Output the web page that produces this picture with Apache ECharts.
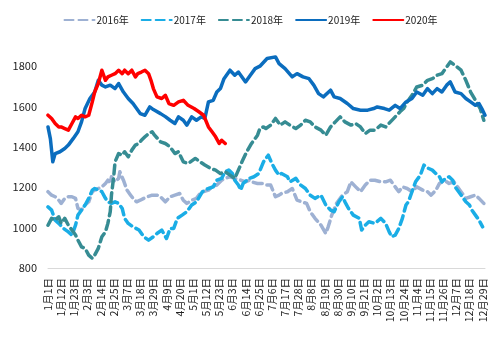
<!DOCTYPE html>
<html>
<head>
<meta charset="utf-8">
<script src="https://cdn.jsdelivr.net/npm/echarts@6/dist/echarts.min.js"></script>
<style>
html,body{margin:0;padding:0;background:#fff;}
#chart{width:501px;height:348px;}
</style>
</head>
<body>
<div id="chart"></div>
<script>
// Category axis: every day of a (leap) year, labelled like "1月1日"
const monthLengths = [31,29,31,30,31,30,31,31,30,31,30,31];
const categories = [];
monthLengths.forEach((n, m) => { for (let d = 1; d <= n; d++) categories.push((m + 1) + '月' + d + '日'); });

const seriesNames = ['2016年', '2017年', '2018年', '2019年', '2020年'];
const yTicks = [800, 1000, 1200, 1400, 1600, 1800];

// Values (day index within the year -> value)
const days2016 = [0,3,6,9,11,14,17,20,23,25,28,31,34,37,39,42,45,48,50,52,53,56,59,60,63,66,69,71,74,77,80,83,87,91,94,98,102,106,110,113,116,120,124,127,130,134,137,141,145,148,152,156,161,165,168,170,175,179,182,186,190,193,195,200,204,208,212,216,219,223,228,232,234,237,241,246,250,253,257,261,265,269,273,278,282,286,290,293,296,300,304,308,313,317,320,324,327,331,335,339,342,345,349,353,357,360,364];
const values2016 = [1178,1161,1153,1136,1120,1145,1153,1153,1145,1095,1087,1112,1128,1178,1186,1194,1202,1219,1235,1219,1252,1227,1244,1277,1235,1186,1161,1145,1128,1136,1145,1153,1161,1161,1153,1128,1153,1161,1169,1136,1120,1136,1145,1169,1178,1186,1202,1211,1235,1244,1252,1244,1235,1227,1235,1227,1219,1219,1211,1211,1153,1161,1169,1178,1194,1136,1128,1120,1079,1046,1012,971,1004,1062,1120,1161,1178,1227,1202,1178,1211,1235,1235,1227,1227,1235,1202,1178,1202,1194,1178,1202,1186,1178,1161,1186,1219,1235,1219,1227,1202,1178,1145,1153,1161,1145,1120];

const days2017 = [0,3,6,9,13,17,20,23,25,28,31,34,37,39,42,45,48,50,53,56,59,62,64,67,71,76,80,84,88,91,95,99,102,105,108,112,116,120,124,129,131,134,138,141,145,148,151,154,156,159,161,163,168,172,176,180,184,187,190,193,195,200,202,207,211,215,219,223,228,232,236,239,243,246,248,251,255,260,262,265,268,273,278,282,285,287,290,293,296,299,301,304,307,311,314,318,321,324,327,329,332,335,338,340,343,346,349,352,354,357,360,363];
const values2017 = [1103,1087,1037,1021,996,979,963,1012,1062,1087,1112,1145,1186,1194,1186,1178,1145,1128,1120,1128,1120,1095,1046,1021,1004,988,955,938,955,971,988,946,996,996,1046,1062,1079,1112,1128,1178,1186,1194,1202,1235,1244,1277,1285,1268,1235,1211,1186,1219,1244,1252,1268,1326,1359,1318,1285,1260,1268,1252,1227,1244,1211,1194,1161,1145,1161,1112,1087,1079,1128,1153,1128,1095,1062,1046,988,1012,1029,1021,1046,1021,979,955,963,996,1046,1112,1128,1178,1227,1260,1310,1293,1285,1268,1252,1227,1244,1252,1235,1202,1178,1153,1128,1112,1087,1062,1037,1004];

const days2018 = [0,3,6,9,11,14,17,20,23,25,28,31,34,37,39,42,45,48,50,52,53,55,56,59,62,64,67,70,73,76,78,81,84,87,89,94,98,102,106,109,113,117,123,127,131,136,140,144,148,152,156,159,162,166,170,175,177,180,182,186,190,194,198,202,207,211,215,219,223,228,232,236,240,244,248,253,257,261,265,269,273,278,282,286,290,294,297,300,304,308,313,317,321,325,329,333,336,340,345,349,353,357,361,364];
const values2018 = [1012,1046,1037,1054,1021,1046,1012,988,963,938,905,897,864,848,864,897,955,979,1021,1079,1161,1260,1326,1367,1359,1376,1351,1384,1409,1417,1433,1450,1466,1475,1458,1425,1417,1400,1367,1376,1326,1318,1343,1326,1310,1293,1285,1268,1277,1260,1244,1285,1326,1376,1417,1458,1491,1499,1491,1508,1541,1508,1524,1508,1491,1508,1532,1524,1499,1483,1458,1499,1524,1549,1524,1508,1516,1499,1466,1483,1483,1508,1499,1524,1549,1574,1590,1623,1656,1697,1706,1730,1738,1755,1763,1796,1821,1804,1780,1730,1672,1631,1590,1532];

const days2019 = [0,2,4,6,10,14,17,21,25,28,31,35,39,42,45,48,52,56,59,63,67,71,77,81,85,88,94,98,102,106,109,113,116,120,124,128,131,134,138,141,144,147,152,156,159,165,169,173,177,183,190,193,198,204,208,213,218,222,226,230,236,239,244,250,255,261,267,272,275,281,285,290,294,299,304,308,313,317,321,325,329,333,336,340,345,349,353,357,360,363,365];
const values2019 = [1499,1440,1326,1367,1376,1392,1409,1441,1475,1524,1590,1640,1672,1730,1706,1697,1706,1689,1714,1672,1640,1615,1565,1557,1598,1585,1565,1550,1532,1516,1549,1532,1508,1549,1532,1549,1541,1623,1631,1672,1689,1738,1780,1755,1771,1722,1755,1788,1800,1838,1846,1813,1788,1747,1763,1747,1738,1706,1664,1648,1681,1648,1640,1615,1590,1582,1582,1590,1598,1590,1582,1606,1590,1623,1640,1672,1656,1689,1664,1689,1672,1706,1722,1672,1664,1640,1623,1606,1615,1582,1557];

const days2020 = [0,3,6,9,11,14,17,20,23,25,28,31,34,37,39,42,45,48,50,53,56,59,62,64,67,70,73,75,78,81,84,86,88,91,95,98,101,105,109,113,117,122,126,130,134,137,140,143,145,148];
const values2020 = [1557,1541,1516,1499,1499,1491,1483,1516,1549,1541,1557,1549,1557,1623,1672,1714,1780,1730,1747,1755,1763,1780,1763,1780,1763,1780,1747,1763,1771,1780,1763,1730,1689,1648,1640,1656,1615,1606,1623,1631,1606,1590,1574,1557,1499,1475,1450,1417,1433,1417];

const colors = ['#9EB1D3', '#1AADE6', '#368C93', '#0B6DBE', '#FF0000'];
const allDays = [days2016, days2017, days2018, days2019, days2020];
const allValues = [values2016, values2017, values2018, values2019, values2020];

const series = seriesNames.map((name, k) => ({
  name: name,
  type: 'line',
  showSymbol: false,
  symbol: 'none',
  smooth: false,
  data: allDays[k].map((d, j) => [d, allValues[k][j]]),
  lineStyle: {
    color: colors[k],
    width: 3.5,
    type: k < 3 ? [9, 5] : 'solid',
    cap: 'round',
    join: 'round'
  },
  itemStyle: { color: colors[k] },
  z: k + 1
}));

const chart = echarts.init(document.getElementById('chart'), null, { renderer: 'canvas' });
chart.setOption({
  animation: false,
  backgroundColor: '#ffffff',
  textStyle: { fontFamily: '"Noto Sans CJK SC", "Noto Sans", sans-serif' },
  legend: {
    top: 10,
    left: 'center',
    itemWidth: 30,
    itemHeight: 10,
    itemGap: 12,
    data: seriesNames,
    itemStyle: { opacity: 0 },
    textStyle: { fontSize: 10, color: '#222', padding: [0, 0, 0, -3] }
  },
  grid: { left: 48, right: 16, top: 46, bottom: 80, containLabel: false },
  xAxis: {
    type: 'category',
    data: categories,
    boundaryGap: false,
    axisLine: { show: true, lineStyle: { color: '#D9D9D9', width: 1 } },
    axisTick: { show: false },
    splitLine: { show: false },
    axisLabel: { interval: 10, rotate: 90, fontSize: 10.5, color: '#222', margin: 10 }
  },
  yAxis: {
    type: 'value',
    min: 800,
    max: 1900,
    interval: 200,
    axisLine: { show: false },
    axisTick: { show: false },
    splitLine: { show: false },
    axisLabel: {
      fontSize: 11,
      color: '#222',
      margin: 11,
      formatter: v => (yTicks.indexOf(v) >= 0 ? String(v) : '')
    }
  },
  series: series
});
</script>
</body>
</html>
